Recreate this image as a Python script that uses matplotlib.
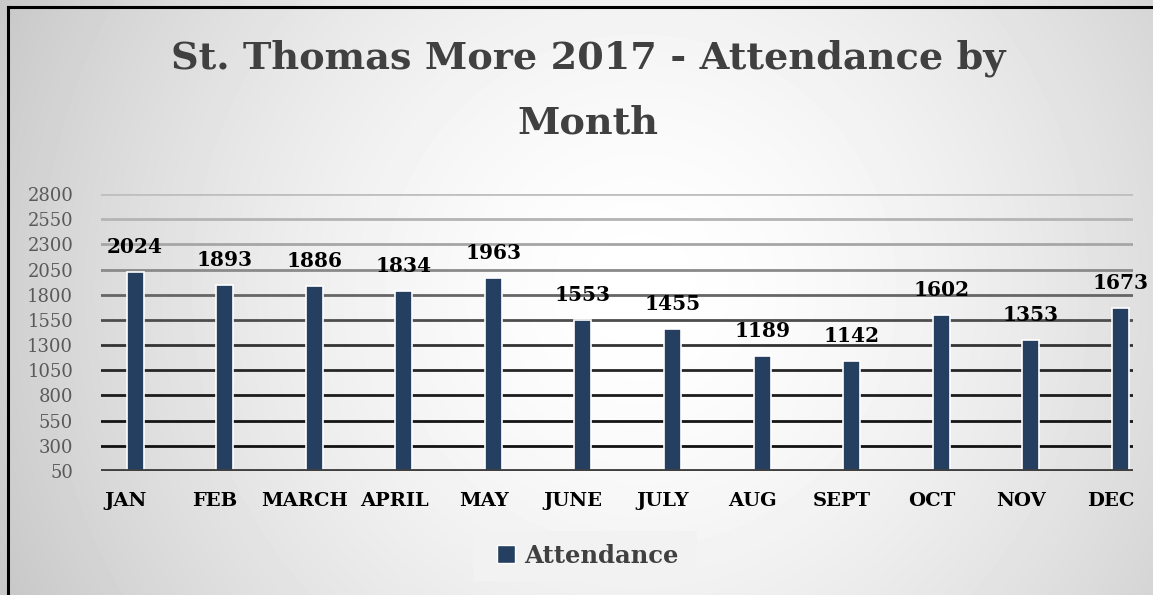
import numpy as np
import matplotlib
matplotlib.use('Agg')
import matplotlib.pyplot as plt
from matplotlib.lines import Line2D
from matplotlib.patches import Rectangle

# data
months = ['JAN', 'FEB', 'MARCH', 'APRIL', 'MAY', 'JUNE', 'JULY', 'AUG', 'SEPT', 'OCT', 'NOV', 'DEC']
attendance = [2024, 1893, 1886, 1834, 1963, 1553, 1455, 1189, 1142, 1602, 1353, 1673]
yticks = list(range(50, 2801, 250))

plt.rcParams['font.family'] = ['DejaVu Serif']

W, H = 1153, 595
fig = plt.figure(figsize=(W / 100, H / 100), dpi=100)

# radial gradient background, white in the middle, grey at the corners
bg = fig.add_axes([0, 0, 1, 1])
yy, xx = np.mgrid[0:H, 0:W]
d = np.sqrt((xx - 640) ** 2 + (yy - 290) ** 2)
g = 1.0 - 0.215 * np.clip(d / 700, 0, 1.1) ** 1.6
bg.imshow(g, cmap='gray', vmin=0, vmax=1, extent=[0, W, H, 0], aspect='auto')
bg.set_xlim(0, W)
bg.set_ylim(H, 0)
bg.axis('off')
# border (only left and top visible)
bg.plot([8, 8], [7, H + 5], color='black', lw=2.2)
bg.plot([8, W + 5], [7, 7], color='black', lw=2.2)
# legend box
bg.add_patch(Rectangle((474, 531), 223, 50, facecolor='#f2f2f2', edgecolor='none'))

# title
fig.text(588 / W, 1 - 58 / H, 'St. Thomas More 2017 - Attendance by', ha='center', va='center',
         fontsize=27.5, fontweight='bold', color='#404040')
fig.text(588 / W, 1 - 123 / H, 'Month', ha='center', va='center',
         fontsize=27.5, fontweight='bold', color='#404040')

# plot area
ax = fig.add_axes([101 / W, 1 - 471 / H, 1032 / W, 277 / H])
ax.patch.set_alpha(0)
x = np.arange(len(months))
ax.set_xlim(-0.38, 11.14)
ax.set_ylim(50, 2800)

# gridlines, lighter at top, darker at bottom
gshade = ['#111111', '#151515', '#1c1c1c', '#262626', '#333333', '#4d4d4d', '#666666', '#8a8a8a', '#a6a6a6', '#b4b4b4', '#bfbfbf']
for yv, c in zip(yticks[1:], gshade):
    ax.axhline(yv, color=c, lw=2, zorder=1)
ax.axhline(50, color='#404040', lw=3.5, zorder=3)

bars = ax.bar(x, attendance, width=0.19, bottom=0, color='#253F60', edgecolor='white',
              linewidth=1.2, zorder=2, label='Attendance')
for xi, v in zip(x, attendance):
    ax.annotate(str(v), (xi, v), xytext=(0, 18), textcoords='offset points', ha='center',
                va='center', fontsize=14.5, fontweight='bold', color='black', zorder=4)

ax.set_yticks(yticks)
ax.set_yticklabels([str(t) for t in yticks], fontsize=13, color='#595959')
ax.set_xticks(x - 0.11)
ax.set_xticklabels(months, fontsize=14, fontweight='bold', color='black')
ax.tick_params(axis='both', length=0)
ax.tick_params(axis='x', pad=15)
ax.tick_params(axis='y', pad=20)
for s in ax.spines.values():
    s.set_visible(False)

handle = Line2D([], [], marker='s', color='none', markerfacecolor='#253F60',
                markeredgecolor='white', markersize=13)
leg = fig.legend([handle], ['Attendance'], loc='center',
                 bbox_to_anchor=(587 / W, 1 - 556 / H), frameon=False,
                 handlelength=0.8, handletextpad=0.35,
                 prop={'family': 'DejaVu Serif', 'weight': 'bold', 'size': 17.5})
for t in leg.get_texts():
    t.set_color('#404040')

fig.savefig('out.png', dpi=100)
